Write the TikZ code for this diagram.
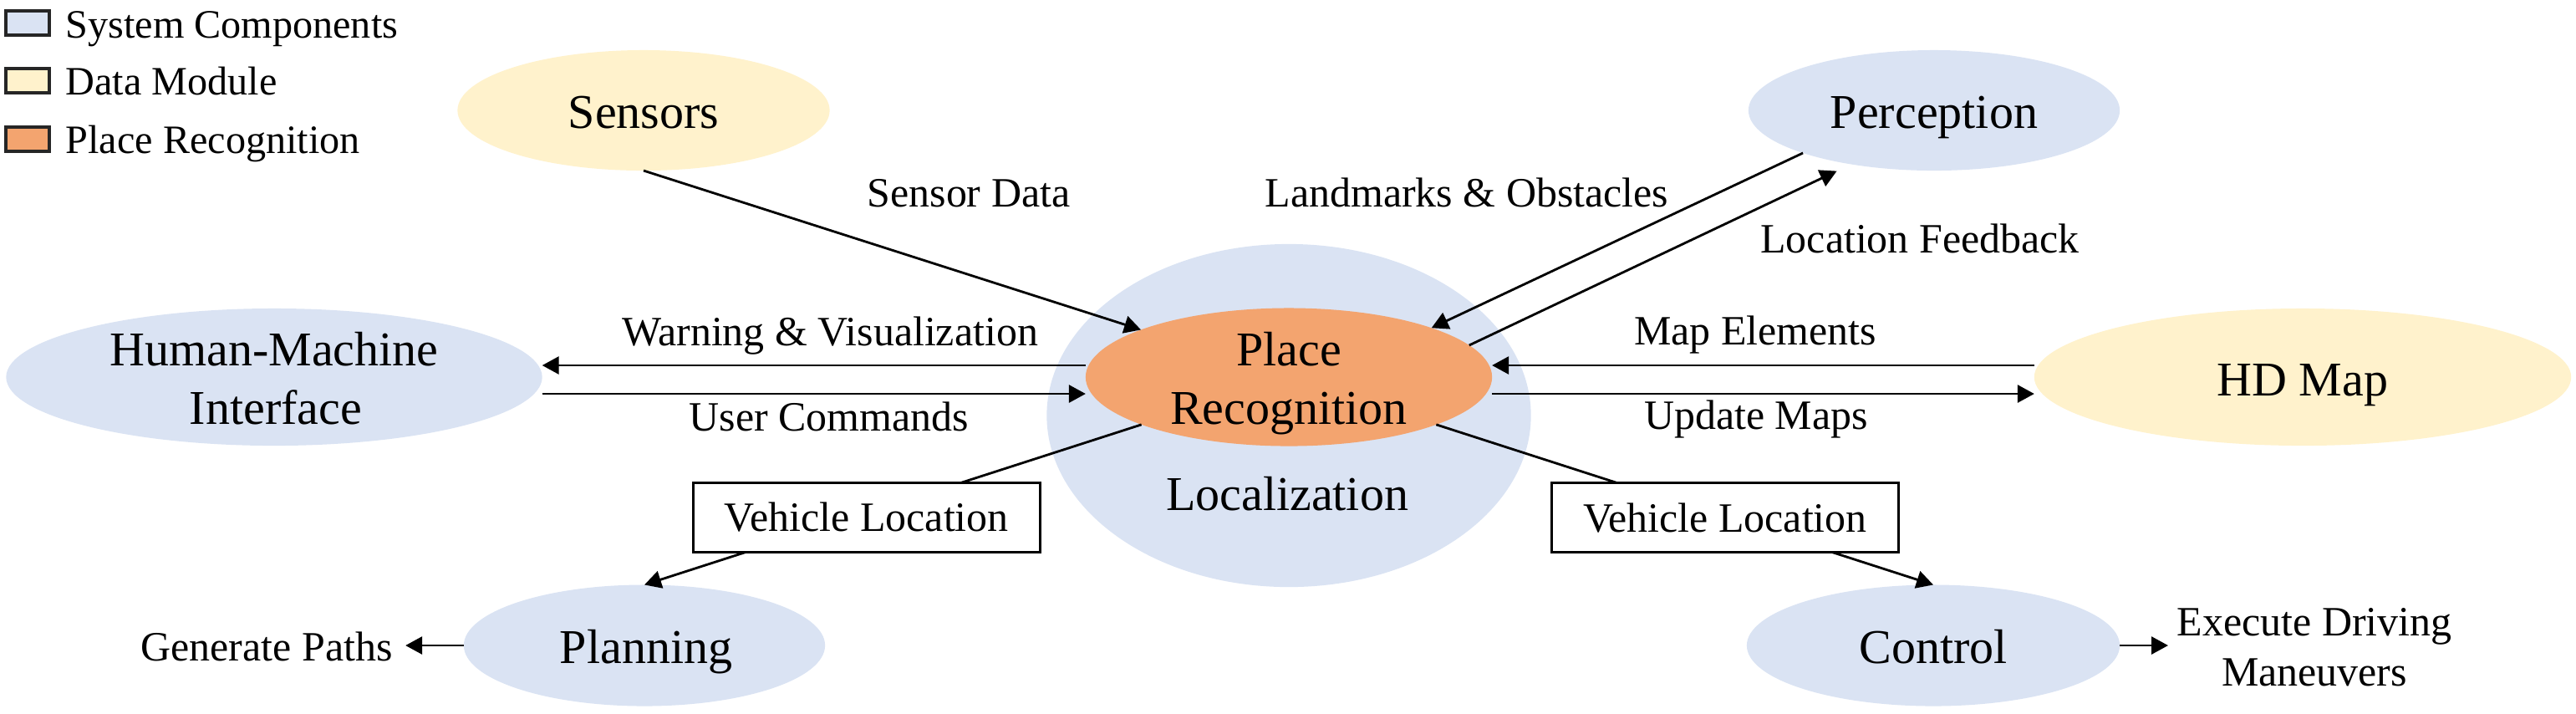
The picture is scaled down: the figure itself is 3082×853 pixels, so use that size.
\documentclass[tikz,border=0pt]{standalone}
\usepackage{fontspec}
\setmainfont{Liberation Serif}
\usetikzlibrary{shapes.geometric,arrows.meta}
\definecolor{compblue}{HTML}{DAE3F3}
\definecolor{datayellow}{HTML}{FFF2CC}
\definecolor{prorange}{HTML}{F3A46F}
\begin{document}
\begin{tikzpicture}[x=0.01cm,y=-0.01cm,
  ell/.style={ellipse, inner sep=0pt, outer sep=0pt, draw=none},
  bigtxt/.style={font=\fontsize{16.5pt}{19.9pt}\selectfont, inner sep=0pt, anchor=base},
  lbl/.style={font=\fontsize{14.2pt}{17.1pt}\selectfont, inner sep=0pt, anchor=base},
  legtxt/.style={font=\fontsize{13.7pt}{16pt}\selectfont, inner sep=0pt, anchor=base west},
  arr/.style={-{Triangle[length=0.2cm,width=0.21cm]}, line width=0.8pt},
  vbox/.style={draw, line width=0.8pt, fill=white, minimum width=4.15cm, minimum height=0.83cm, inner sep=0pt, font=\fontsize{14.2pt}{17.1pt}\selectfont},
  legbox/.style={draw=black!85, line width=0.9pt, minimum width=0.52cm, minimum height=0.29cm, inner sep=0pt}]
\useasboundingbox (0,0) rectangle (3082,853);

% legend
\node[legbox, fill=compblue] (lg1) at (33,27.5) {};
\node[legbox, fill=datayellow] (lg2) at (33,96.5) {};
\node[legbox, fill=prorange] (lg3) at (33,166.5) {};
\node[legtxt] (lt1) at (78,45) {System Components};
\node[legtxt] (lt2) at (78,113) {Data Module};
\node[legtxt] (lt3) at (78,183) {Place Recognition};

% ellipses
\node[ell, fill=compblue, minimum width=5.79cm, minimum height=4.1cm] (loc) at (1542,497) {};
\node[ell, fill=prorange, minimum width=4.86cm, minimum height=1.65cm] (pr) at (1542,451) {};
\node[ell, fill=datayellow, minimum width=4.45cm, minimum height=1.44cm] (sens) at (770,132) {};
\node[ell, fill=compblue, minimum width=4.44cm, minimum height=1.44cm] (perc) at (2314,132) {};
\node[ell, fill=compblue, minimum width=6.41cm, minimum height=1.64cm] (hmi) at (328,451) {};
\node[ell, fill=datayellow, minimum width=6.42cm, minimum height=1.64cm] (hd) at (2755,451) {};
\node[ell, fill=compblue, minimum width=4.32cm, minimum height=1.45cm] (plan) at (771,772) {};
\node[ell, fill=compblue, minimum width=4.46cm, minimum height=1.45cm] (ctrl) at (2313,772) {};

% ellipse texts
\node[bigtxt] (locT) at (1540,610) {Localization};
\node[bigtxt] (prA) at (1542,437) {Place};
\node[bigtxt] (prB) at (1542,507) {Recognition};
\node[bigtxt] (sensT) at (770,153) {Sensors};
\node[bigtxt] (percT) at (2314,153) {Perception};
\node[bigtxt] (hmiA) at (328,437) {Human-Machine};
\node[bigtxt] (hmiB) at (330,507) {Interface};
\node[bigtxt] (hdT) at (2755,473) {HD Map};
\node[bigtxt] (planT) at (773,793) {Planning};
\node[bigtxt] (ctrlT) at (2313,793) {Control};

% labels
\node[lbl] (sd) at (1159,247) {Sensor Data};
\node[lbl] (lo) at (1755,247) {Landmarks \& Obstacles};
\node[lbl] (lf) at (2297,302) {Location Feedback};
\node[lbl] (wv) at (993,413) {Warning \& Visualization};
\node[lbl] (uc) at (992,515) {User Commands};
\node[lbl] (me) at (2100,412) {Map Elements};
\node[lbl] (um) at (2101,513) {Update Maps};
\node[lbl] (gp) at (319,790) {Generate Paths};
\node[lbl] (ex1) at (2769,760) {Execute Driving};
\node[lbl] (ex2) at (2769,820) {Maneuvers};

% connectors
\draw[arr] (sens.south) -- (pr);
\draw[arr] (perc.198) -- (pr.19);
\draw[arr, shorten >=0.19cm] (pr.10) -- (perc.213);
\draw[arr] ([yshift=0.14cm]pr.west) -- ([yshift=0.14cm]hmi.east);
\draw[arr] ([yshift=-0.2cm]hmi.east) -- ([yshift=-0.2cm]pr.west);
\draw[arr] ([yshift=0.14cm]hd.west) -- ([yshift=0.14cm]pr.east);
\draw[arr] ([yshift=-0.2cm]pr.east) -- ([yshift=-0.2cm]hd.west);
\draw[arr] (pr) -- node[vbox, pos=0.553, yshift=-0.05cm] (vl1) {Vehicle Location} (plan.north);
\draw[arr] (pr) -- node[vbox, pos=0.581] (vl2) {Vehicle Location} (ctrl.north);
\draw[arr, shorten >=0.15cm] (plan.west) -- (plan.west -| gp.east);
\draw[arr, shorten >=0.1cm] (ctrl.east) -- (ctrl.east -| ex1.west);
\end{tikzpicture}
\end{document}
